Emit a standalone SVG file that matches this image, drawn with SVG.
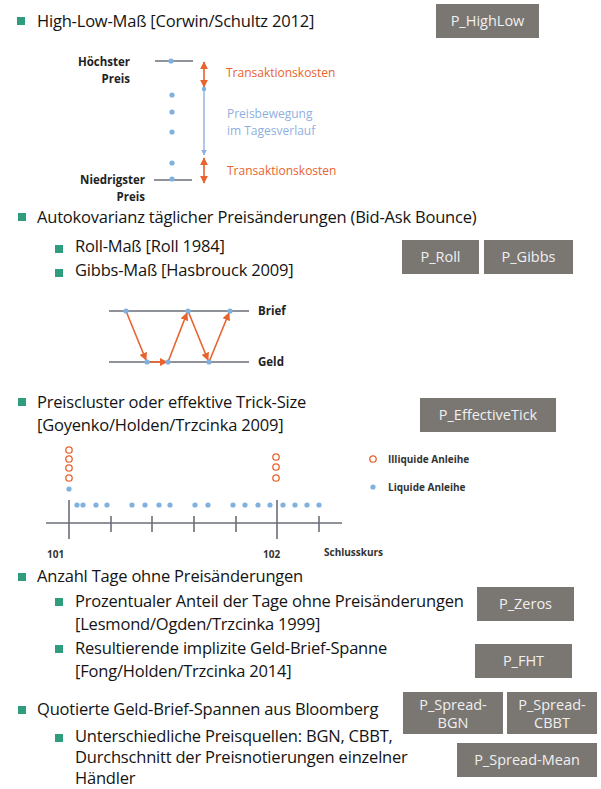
<svg xmlns="http://www.w3.org/2000/svg" width="601" height="789" viewBox="0 0 601 789">
  <defs>
    <style>
      .t { font-family: "Open Sans", "Liberation Sans", sans-serif; font-size: 16.5px; letter-spacing: -0.2px; fill: #141414; }
      .bul { fill: #2f9c7e; }
      .box rect { fill: #7a7672; }
      .box text { font-family: "Open Sans", "Liberation Sans", sans-serif; font-size: 14.5px; fill: #f0f0f0; text-anchor: middle; }
      .lbl { font-family: "Open Sans", "Liberation Sans", sans-serif; font-size: 11.5px; font-weight: bold; fill: #222; }
      .small { font-family: "Open Sans", "Liberation Sans", sans-serif; font-size: 10px; font-weight: bold; fill: #333; }
      .red { font-family: "Open Sans", "Liberation Sans", sans-serif; font-size: 12px; fill: #e8632e; }
      .blue { font-family: "Open Sans", "Liberation Sans", sans-serif; font-size: 12px; fill: #8fb0de; }
      .gl { stroke: #6b6e78; stroke-width: 1.6; fill: none; }
      .ra { stroke: #e8632e; stroke-width: 1.6; fill: none; }
      .dot { fill: #7fb0de; }
      .ring { fill: none; stroke: #e8632e; stroke-width: 1.3; }
    </style>
    <marker id="ah-red" viewBox="0 0 10 10" refX="9" refY="5" markerWidth="5" markerHeight="5" orient="auto-start-reverse">
      <path d="M0,0 L10,5 L0,10 z" fill="#e8632e"/>
    </marker>
    <marker id="ah-blue" viewBox="0 0 10 10" refX="9" refY="5" markerWidth="4" markerHeight="4" orient="auto-start-reverse">
      <path d="M0,0 L10,5 L0,10 z" fill="#8fb0de"/>
    </marker>
  </defs>
  <rect width="601" height="789" fill="#ffffff"/>

  <!-- bullet text -->
  <g id="text">
    <rect class="bul" x="17" y="17" width="8" height="8"/>
    <text class="t" x="37" y="27">High-Low-Maß [Corwin/Schultz 2012]</text>

    <rect class="bul" x="18" y="213" width="8" height="8"/>
    <text class="t" x="37" y="223">Autokovarianz täglicher Preisänderungen (Bid-Ask Bounce)</text>
    <rect class="bul" x="55" y="245" width="8" height="8"/>
    <text class="t" x="75" y="252">Roll-Maß [Roll 1984]</text>
    <rect class="bul" x="55" y="269" width="8" height="8"/>
    <text class="t" x="75" y="276">Gibbs-Maß [Hasbrouck 2009]</text>

    <rect class="bul" x="18" y="398" width="8" height="8"/>
    <text class="t" x="37" y="408">Preiscluster oder effektive Trick-Size</text>
    <text class="t" x="37" y="431">[Goyenko/Holden/Trzcinka 2009]</text>

    <rect class="bul" x="18" y="573" width="8" height="8"/>
    <text class="t" x="37" y="582">Anzahl Tage ohne Preisänderungen</text>
    <rect class="bul" x="55" y="598" width="8" height="8"/>
    <text class="t" x="75" y="607">Prozentualer Anteil der Tage ohne Preisänderungen</text>
    <text class="t" x="75" y="630">[Lesmond/Ogden/Trzcinka 1999]</text>
    <rect class="bul" x="55" y="645" width="8" height="8"/>
    <text class="t" x="75" y="654">Resultierende implizite Geld-Brief-Spanne</text>
    <text class="t" x="75" y="677">[Fong/Holden/Trzcinka 2014]</text>

    <rect class="bul" x="18" y="706" width="8" height="8"/>
    <text class="t" x="37" y="715">Quotierte Geld-Brief-Spannen aus Bloomberg</text>
    <rect class="bul" x="55" y="734" width="8" height="8"/>
    <text class="t" x="75" y="742">Unterschiedliche Preisquellen: BGN, CBBT,</text>
    <text class="t" x="75" y="763">Durchschnitt der Preisnotierungen einzelner</text>
    <text class="t" x="75" y="784">Händler</text>
  </g>

  <!-- measure boxes -->
  <g id="p-highlow" class="box"><rect x="436" y="4" width="103" height="34"/><text x="487.5" y="26">P_HighLow</text></g>
  <g id="p-roll" class="box"><rect x="402" y="240" width="77" height="34"/><text x="440.5" y="262">P_Roll</text></g>
  <g id="p-gibbs" class="box"><rect x="484" y="240" width="89" height="34"/><text x="528.5" y="262">P_Gibbs</text></g>
  <g id="p-effectivetick" class="box"><rect x="420" y="398" width="136" height="34"/><text x="488" y="420">P_EffectiveTick</text></g>
  <g id="p-zeros" class="box"><rect x="477" y="587" width="97" height="34"/><text x="525.5" y="609">P_Zeros</text></g>
  <g id="p-fht" class="box"><rect x="475" y="644" width="97" height="34"/><text x="523.5" y="666">P_FHT</text></g>
  <g id="p-spread-bgn" class="box"><rect x="403" y="692" width="100" height="42"/><text x="453" y="710">P_Spread-</text><text x="453" y="728">BGN</text></g>
  <g id="p-spread-cbbt" class="box"><rect x="507" y="692" width="90" height="42"/><text x="552" y="710">P_Spread-</text><text x="552" y="728">CBBT</text></g>
  <g id="p-spread-mean" class="box"><rect x="457" y="743" width="140" height="34"/><text x="527" y="765">P_Spread-Mean</text></g>

  <!-- high-low range sketch -->
  <g id="highlow-sketch">
    <text class="lbl" x="130" y="66" text-anchor="end">Höchster</text>
    <text class="lbl" x="130" y="83" text-anchor="end">Preis</text>
    <text class="lbl" x="145" y="184" text-anchor="end">Niedrigster</text>
    <text class="lbl" x="145" y="201" text-anchor="end">Preis</text>
    <line class="gl" x1="155" y1="61" x2="193" y2="61"/>
    <line class="gl" x1="154" y1="180" x2="192" y2="180"/>
    <circle class="dot" cx="171" cy="61" r="2.6"/>
    <circle class="dot" cx="172" cy="95" r="2.6"/>
    <circle class="dot" cx="172" cy="112" r="2.6"/>
    <circle class="dot" cx="172" cy="132" r="2.6"/>
    <circle class="dot" cx="172" cy="163" r="2.6"/>
    <circle class="dot" cx="172" cy="179" r="2.6"/>
    <text class="red" x="226" y="77">Transaktionskosten</text>
    <text class="blue" x="227" y="118">Preisbewegung</text>
    <text class="blue" x="227" y="135">im Tagesverlauf</text>
    <text class="red" x="227" y="175">Transaktionskosten</text>
  </g>

  <!-- bid-ask bounce sketch -->
  <g id="bidask-sketch">
    <line class="gl" x1="109" y1="311" x2="249" y2="311"/>
    <line class="gl" x1="109" y1="362" x2="249" y2="362"/>
    <text class="lbl" x="258" y="315">Brief</text>
    <text class="lbl" x="258" y="366">Geld</text>
  </g>

  <!-- tick-size sketch -->
  <g id="tick-sketch">
    <line class="gl" x1="46" y1="523" x2="342" y2="523"/>
    <line class="gl" x1="69" y1="500" x2="69" y2="539"/>
    <line class="gl" x1="277" y1="500" x2="277" y2="539"/>
    <line class="gl" x1="111" y1="516" x2="111" y2="532"/>
    <line class="gl" x1="152" y1="516" x2="152" y2="532"/>
    <line class="gl" x1="194" y1="516" x2="194" y2="532"/>
    <line class="gl" x1="236" y1="516" x2="236" y2="532"/>
    <line class="gl" x1="319" y1="516" x2="319" y2="532"/>
    <circle class="ring" cx="69" cy="450" r="3.2"/>
    <circle class="ring" cx="69" cy="459" r="3.2"/>
    <circle class="ring" cx="69" cy="468" r="3.2"/>
    <circle class="ring" cx="69" cy="478" r="3.2"/>
    <circle class="ring" cx="276" cy="457" r="3.2"/>
    <circle class="ring" cx="276" cy="467" r="3.2"/>
    <circle class="ring" cx="276" cy="478" r="3.2"/>
    <circle class="dot" cx="69" cy="489" r="2.6"/>
    <g class="dot">
      <circle cx="77" cy="505" r="2.6"/><circle cx="83" cy="505" r="2.6"/>
      <circle cx="96" cy="505" r="2.6"/><circle cx="107" cy="505" r="2.6"/>
      <circle cx="132" cy="505" r="2.6"/><circle cx="145" cy="505" r="2.6"/>
      <circle cx="159" cy="505" r="2.6"/><circle cx="170" cy="505" r="2.6"/>
      <circle cx="195" cy="505" r="2.6"/><circle cx="208" cy="505" r="2.6"/>
      <circle cx="233" cy="505" r="2.6"/><circle cx="245" cy="505" r="2.6"/>
      <circle cx="258" cy="505" r="2.6"/><circle cx="270" cy="505" r="2.6"/>
      <circle cx="283" cy="505" r="2.6"/><circle cx="295" cy="505" r="2.6"/>
      <circle cx="307" cy="505" r="2.6"/><circle cx="319" cy="505" r="2.6"/>
    </g>
    <text class="small" x="47" y="558">101</text>
    <text class="small" x="263" y="558">102</text>
    <text class="small" x="324" y="556">Schlusskurs</text>
    <circle class="ring" cx="373" cy="459" r="3.2"/>
    <text class="small" x="388" y="463">Illiquide Anleihe</text>
    <circle class="dot" cx="373" cy="487" r="2.6"/>
    <text class="small" x="388" y="491">Liquide Anleihe</text>
  </g>

  <!-- connectors -->
  <g id="connectors">
    <line class="ra" x1="204" y1="62" x2="204" y2="87" marker-start="url(#ah-red)" marker-end="url(#ah-red)"/>
    <line x1="204" y1="89" x2="204" y2="155" stroke="#8fb0de" stroke-width="1.4" marker-end="url(#ah-blue)"/>
    <circle class="dot" cx="204" cy="89" r="2.2"/>
    <line class="ra" x1="204" y1="158" x2="204" y2="183" marker-start="url(#ah-red)" marker-end="url(#ah-red)"/>

    <line class="ra" x1="126" y1="311" x2="146" y2="360" marker-end="url(#ah-red)"/>
    <line class="ra" x1="147" y1="362" x2="167" y2="362" marker-end="url(#ah-red)"/>
    <line class="ra" x1="168" y1="362" x2="187" y2="313" marker-end="url(#ah-red)"/>
    <line class="ra" x1="188" y1="311" x2="208" y2="360" marker-end="url(#ah-red)"/>
    <line class="ra" x1="209" y1="362" x2="229" y2="313" marker-end="url(#ah-red)"/>
    <g class="dot">
      <circle cx="126" cy="311" r="2.6"/><circle cx="188" cy="311" r="2.6"/><circle cx="230" cy="311" r="2.6"/>
      <circle cx="147" cy="362" r="2.6"/><circle cx="168" cy="362" r="2.6"/><circle cx="209" cy="362" r="2.6"/>
    </g>
  </g>
</svg>
